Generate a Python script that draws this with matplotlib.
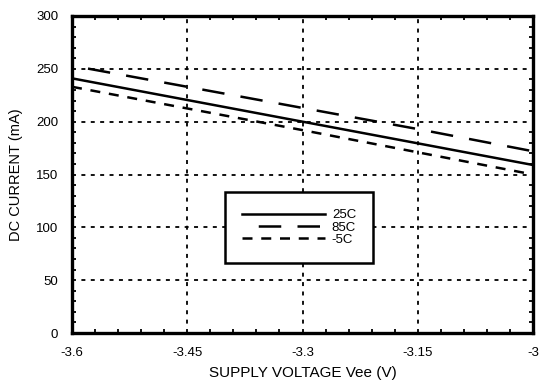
import numpy as np
import matplotlib
matplotlib.use("Agg")
import matplotlib.pyplot as plt
from matplotlib.ticker import MultipleLocator

plt.rcParams['font.family'] = ['Liberation Sans', 'DejaVu Sans']

# supply voltage (V) and DC current (mA) per temperature
vee = [-3.6, -3.45, -3.3, -3.15, -3.0]
i_25c = [241, 220.5, 200, 179.5, 159]
i_85c = [253, 233, 213, 193, 172]
i_m5c = [233, 212.5, 192, 171, 150]

fig = plt.figure(figsize=(5.42, 3.83), dpi=100)
ax = fig.add_axes([72/542, 50/383, 461/542, 317/383])

ax.plot(vee, i_25c, color='black', lw=1.8, ls='-', label='25C')
ax.plot(vee, i_85c, color='black', lw=1.8, ls=(9, (9, 6.5)), label='85C')
ax.plot(vee, i_m5c, color='black', lw=1.8, ls=(0, (4, 3.5)), label='-5C')

ax.set_xlim(-3.6, -3.0)
ax.set_ylim(0, 300)
ax.set_xticks(vee)
ax.set_xticklabels(['-3.6', '-3.45', '-3.3', '-3.15', '-3'])
ax.xaxis.set_minor_locator(MultipleLocator(0.03))
ax.set_yticks(np.arange(0, 301, 50))
ax.yaxis.set_minor_locator(MultipleLocator(10))
ax.tick_params(which='both', direction='in', top=True, right=True,
               length=3, width=1.3, labelsize=9.5)
ax.tick_params(which='major', length=0)
ax.tick_params(axis='y', which='major', pad=10)
ax.tick_params(axis='x', which='major', pad=10)
ax.grid(True, which='major', color='black', lw=1.3, ls=(0, (2.2, 3)))
for s in ax.spines.values():
    s.set_linewidth(2.4)

ax.set_xlabel('SUPPLY VOLTAGE Vee (V)', fontsize=11, labelpad=5)
ax.set_ylabel('DC CURRENT (mA)', fontsize=10.5, labelpad=9)

leg = ax.legend(loc='upper left', bbox_to_anchor=(225/542, 1 - 192/383),
                bbox_transform=fig.transFigure, borderaxespad=0,
                fontsize=9.5, handlelength=6.3, handletextpad=0.5,
                labelspacing=0.0, borderpad=1.3, fancybox=False,
                framealpha=1, edgecolor='black')
leg.get_frame().set_linewidth(1.8)

fig.savefig('out.png', dpi=100)
